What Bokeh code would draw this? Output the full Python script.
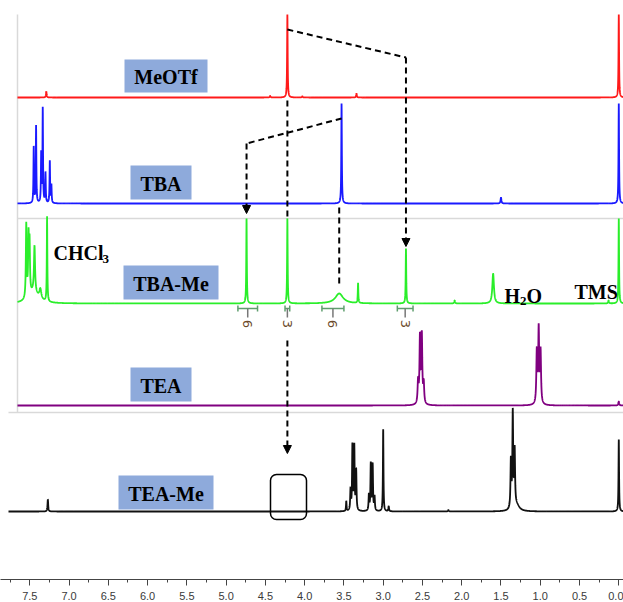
import numpy as np
from bokeh.plotting import figure
from bokeh.models import Range1d, FixedTicker, Arrow, NormalHead
from bokeh.core.properties import value
from bokeh.embed import file_html
from bokeh.resources import INLINE

# ---------------- data ----------------
tick_values = [7.5, 7.0, 6.5, 6.0, 5.5, 5.0, 4.5, 4.0, 3.5, 3.0, 2.5, 2.0, 1.5, 1.0, 0.5, 0.0]
tick_labels = ["7.5", "7.0", "6.5", "6.0", "5.5", "5.0", "4.5", "4.0", "3.5", "3.0",
               "2.5", "2.0", "1.5", "1.0", "0.5", "0.0"]
minor_values = [7.75, 7.25, 6.75, 6.25, 5.75, 5.25, 4.75, 4.25, 3.75, 3.25,
                2.75, 2.25, 1.75, 1.25, 0.75, 0.25]

sample_names = ["MeOTf", "TBA", "TBA-Me", "TEA", "TEA-Me"]
sample_colors = ["#ff1a1a", "#1a1aff", "#2aee2a", "#800080", "#111111"]

# peak lists: chemical shift (ppm), intensity, half width (ppm)
meotf_ppm = [7.29, 4.44, 4.22, 4.03, 3.34, 0.00]
meotf_int = [6, 1.5, 83, 1.2, 4, 83]
meotf_hw = [0.005, 0.006, 0.004, 0.006, 0.005, 0.004]

tba_ppm = [7.45, 7.42, 7.355, 7.335, 7.30, 7.245, 7.225, 3.53, 1.50, 0.00]
tba_int = [56, 77, 49, 94, 30, 42, 18, 100, 6, 100]
tba_hw = [0.004, 0.004, 0.004, 0.004, 0.004, 0.004, 0.004, 0.004, 0.006, 0.004]

tbame_ppm = [7.545, 7.516, 7.503, 7.44, 7.366, 7.45, 7.28, 4.74, 4.22, 3.56, 3.32,
             2.71, 2.09, 1.60, 0.13, 0.00]
tbame_int = [74, 58, 50, 46, 10, 11, 85, 85, 85, 10, 20, 55, 3, 30, 3, 85]
tbame_hw = [0.006, 0.006, 0.006, 0.008, 0.015, 0.07, 0.004, 0.004, 0.004, 0.06, 0.004,
            0.004, 0.006, 0.012, 0.006, 0.004]

tea_ppm = [2.556, 2.532, 2.508, 2.484, 1.044, 1.020, 0.996, 0.00]
tea_int = [22, 66, 68, 20, 52, 74, 52, 4]
tea_hw = [0.007, 0.007, 0.007, 0.007, 0.007, 0.007, 0.007, 0.006]

teame_ppm = [7.27, 3.47, 3.416, 3.392, 3.368, 3.344, 3.182, 3.158, 3.134, 3.110,
             3.00, 2.93, 2.17, 1.374, 1.350, 1.326, 1.30, 0.00]
teame_int = [12, 10, 21, 65, 64, 40, 16, 47, 46, 14, 82, 5, 1.5, 48, 95, 56, 6, 72]
teame_hw = [0.005, 0.004, 0.005, 0.005, 0.005, 0.005, 0.005, 0.005, 0.005, 0.005,
            0.004, 0.005, 0.006, 0.006, 0.006, 0.006, 0.04, 0.004]

# integrations of TBA-Me
integral_from = [4.85, 4.25, 3.78, 2.82]
integral_to = [4.60, 4.19, 3.50, 2.62]
integral_text = ["6", "3", "6", "3"]

# ---------------- layout (page pixels) ----------------
W, H = 623, 602
X_LEFT, X_RIGHT = 7.873, -0.060          # ppm at left / right edge of the frame
FRAME_TOP, FRAME_BOTTOM = 0, 579
baselines = [97, 203, 303, 405, 511]
line_start_px = [17, 17, 17, 17, 8]


def ppm_at(px):
    return X_LEFT - px * (X_LEFT - X_RIGHT) / W


def spectrum(centers, ints, hws, start_px):
    x0 = ppm_at(start_px)
    grid = np.concatenate([np.linspace(x0, X_RIGHT, 5000), np.array(centers)])
    grid = np.sort(np.unique(grid))[::-1]
    y = np.zeros_like(grid)
    for c, h, w in zip(centers, ints, hws):
        y += h * w * w / (w * w + (grid - c) ** 2)
    return grid, y


p = figure(width=W, height=H, x_range=Range1d(X_LEFT, X_RIGHT),
           y_range=Range1d(FRAME_BOTTOM, FRAME_TOP), y_axis_location=None,
           output_backend="svg", toolbar_location=None,
           min_border_left=0, min_border_right=0, min_border_top=0,
           min_border_bottom=H - (FRAME_BOTTOM - FRAME_TOP))
p.outline_line_color = None
p.xgrid.visible = False
p.ygrid.visible = False

# panel frame lines (light grey)
grey = "#d9d9d9"
p.segment(x0=[ppm_at(17)], y0=[14], x1=[ppm_at(17)], y1=[412], line_color=grey, line_width=1.5)
p.segment(x0=[ppm_at(17), ppm_at(8)], y0=[218, 412], x1=[X_RIGHT, X_RIGHT], y1=[218, 412],
          line_color=grey, line_width=1.5)

# spectra
peaks = [(meotf_ppm, meotf_int, meotf_hw), (tba_ppm, tba_int, tba_hw),
         (tbame_ppm, tbame_int, tbame_hw), (tea_ppm, tea_int, tea_hw),
         (teame_ppm, teame_int, teame_hw)]
for (c, h, w), base, col, sp in zip(peaks, baselines, sample_colors, line_start_px):
    gx, gy = spectrum(c, h, w, sp)
    p.line(gx, base - gy, line_color=col, line_width=1.8)

# sample label boxes
box_l = [124, 130, 123, 130, 118]
box_r = [207, 191, 218, 191, 213]
box_t = [59, 165, 265, 367, 475]
box_b = [92, 199, 299, 401, 509]
p.quad(left=[ppm_at(v) for v in box_l], right=[ppm_at(v) for v in box_r],
       top=box_t, bottom=box_b, fill_color="#8eaadb", line_color=None)
p.text(x=[ppm_at((a + b) / 2) for a, b in zip(box_l, box_r)],
       y=[(a + b) / 2 + 1 for a, b in zip(box_t, box_b)], text=sample_names,
       text_font=value("Liberation Serif"), text_font_style="bold", text_font_size="20px",
       text_color="black", text_align="center", text_baseline="middle")

# annotations: CHCl3, H2O, TMS (with subscripts)
serif = value("Liberation Serif")
p.text(x=[ppm_at(53), ppm_at(504), ppm_at(526), ppm_at(574)], y=[252, 295, 295, 291],
       text=["CHCl", "H", "O", "TMS"], text_font=serif, text_font_style="bold",
       text_font_size="20px", text_color="black", text_align="left", text_baseline="alphabetic")
p.text(x=[ppm_at(102), ppm_at(519.5)], y=[258, 300], text=["3", "2"], text_font=serif,
       text_font_style="bold", text_font_size="13px", text_color="black",
       text_align="left", text_baseline="alphabetic")

# integration brackets
ic = "#5f9e6e"
mids = [(a + b) / 2 for a, b in zip(integral_from, integral_to)]
p.segment(x0=integral_from, y0=[308] * 4, x1=integral_to, y1=[308] * 4, line_color=ic, line_width=1.5)
p.segment(x0=integral_from + integral_to, y0=[305] * 8, x1=integral_from + integral_to, y1=[311] * 8,
          line_color=ic, line_width=1.5)
p.segment(x0=mids, y0=[308] * 4, x1=mids, y1=[317] * 4, line_color="#777777", line_width=1.5)
p.text(x=mids, y=[323.5] * 4, text=integral_text, angle=-np.pi / 2,
       text_font=value("DejaVu Sans"), text_font_size="13px", text_color="#6b4a2a",
       text_align="center", text_baseline="middle")

# dashed correlation lines
dash = "6 4"
p.line([4.22, 2.71], [29, 57], line_color="black", line_width=2, line_dash=dash)
p.line([3.53, 4.74], [118, 143], line_color="black", line_width=2, line_dash=dash)
p.line([4.22, 4.22], [100, 219], line_color="black", line_width=2, line_dash=dash)
p.line([3.56, 3.56], [207, 284], line_color="black", line_width=2, line_dash=dash)
for xs, y0, y1 in [(2.71, 57, 246), (4.74, 143, 213), (4.22, 340, 453)]:
    p.add_layout(Arrow(end=NormalHead(size=8, fill_color="black", line_color="black"),
                       x_start=xs, y_start=y0, x_end=xs, y_end=y1,
                       line_color="black", line_width=2, line_dash=dash))

# rounded box marking the missing methyl signal in TEA-Me
p.quad(left=[ppm_at(270)], right=[ppm_at(306)], top=[474], bottom=[519],
       fill_color=None, line_color="black", line_width=1.5, border_radius=6)

# x axis
ax = p.xaxis[0]
ax.ticker = FixedTicker(ticks=tick_values, minor_ticks=minor_values)
ax.major_label_overrides = {v: s for v, s in zip(tick_values, tick_labels)}
ax.axis_line_color = "#444444"
ax.major_tick_line_color = "#444444"
ax.minor_tick_line_color = "#444444"
ax.major_tick_out = 6
ax.major_tick_in = 0
ax.minor_tick_out = 3
ax.minor_tick_in = 0
ax.major_label_standoff = 6
ax.major_label_text_font = "Liberation Sans"
ax.major_label_text_font_size = "11px"
ax.major_label_text_color = "#3a3a3a"

open("out.html", "w").write(file_html(p, INLINE))
